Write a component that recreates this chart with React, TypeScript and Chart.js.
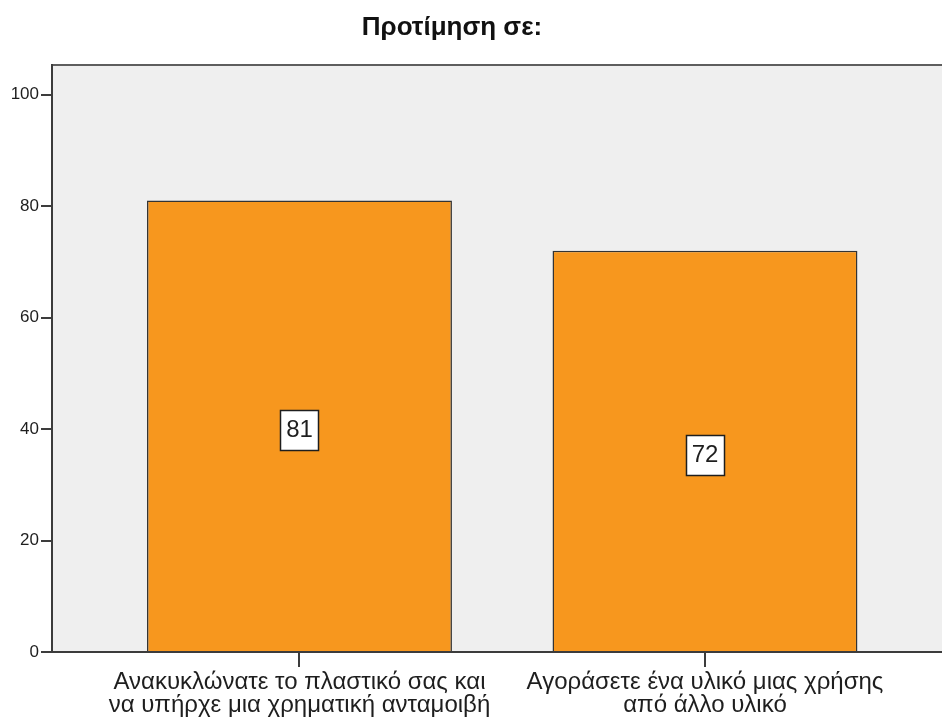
import React, { useEffect, useRef } from 'react';
import { Chart, registerables } from 'chart.js';

Chart.register(...registerables);

const TITLE = 'Προτίμηση σε:';
const categories: string[][] = [
  ['Ανακυκλώνατε το πλαστικό σας και', 'να υπήρχε μια χρηματική ανταμοιβή'],
  ['Αγοράσετε ένα υλικό μιας χρήσης', 'από άλλο υλικό'],
];
const counts: number[] = [81, 72];
const yTickValues: number[] = [0, 20, 40, 60, 80, 100];

const FONT = '"Liberation Sans", Arial, Helvetica, sans-serif';
const BAR_FILL = '#f7971e';
const PLOT_BG = '#efefef';
const INK = '#1e1e1e';
const AXIS = '#3c3c3c';

// Heading above the plot, centred a little left of the canvas middle.
const heading = {
  id: 'heading',
  afterDraw(chart: any) {
    const { ctx } = chart;
    ctx.save();
    ctx.font = `bold 26px ${FONT}`;
    ctx.fillStyle = '#111111';
    ctx.textAlign = 'center';
    ctx.textBaseline = 'middle';
    ctx.fillText(TITLE, 452, 28);
    ctx.restore();
  },
};

// Grey plot background with a top rule; left and bottom edges come from the axes.
const plotFrame = {
  id: 'plotFrame',
  beforeDraw(chart: any) {
    const { ctx, chartArea: a } = chart;
    ctx.save();
    ctx.fillStyle = PLOT_BG;
    ctx.fillRect(a.left, a.top, a.right - a.left, a.bottom - a.top);
    ctx.strokeStyle = '#5e5e5e';
    ctx.lineWidth = 2;
    ctx.beginPath();
    ctx.moveTo(a.left, a.top);
    ctx.lineTo(a.right, a.top);
    ctx.stroke();
    ctx.restore();
  },
};

// Boxed count label in the middle of each bar.
const valueBoxes = {
  id: 'valueBoxes',
  afterDatasetsDraw(chart: any) {
    const { ctx } = chart;
    const meta = chart.getDatasetMeta(0);
    ctx.save();
    ctx.font = `24px ${FONT}`;
    ctx.textAlign = 'center';
    ctx.textBaseline = 'middle';
    meta.data.forEach((bar: any, i: number) => {
      const { x, y, base } = bar.getProps(['x', 'y', 'base'], true);
      const cy = (y + base) / 2 + 4;
      const text = String(counts[i]);
      const w = Math.round(ctx.measureText(text).width + 11);
      const h = 40;
      const left = Math.round(x - w / 2) + 0.5;
      const top = Math.round(cy - h / 2) + 0.5;
      ctx.fillStyle = '#ffffff';
      ctx.fillRect(left, top, w, h);
      ctx.strokeStyle = INK;
      ctx.lineWidth = 1.5;
      ctx.strokeRect(left, top, w, h);
      ctx.fillStyle = INK;
      ctx.fillText(text, x, cy + 1);
    });
    ctx.restore();
  },
};

export default function App() {
  const canvasRef = useRef<HTMLCanvasElement | null>(null);

  useEffect(() => {
    document.body.style.margin = '0';
    const canvas = canvasRef.current;
    if (!canvas) return;

    const chart = new Chart(canvas, {
      type: 'bar',
      data: {
        datasets: [
          {
            data: counts.map((v, i) => ({ x: i + 1, y: v })),
            backgroundColor: BAR_FILL,
            borderColor: '#333333',
            borderWidth: 1.5,
            borderSkipped: 'bottom',
            categoryPercentage: 1,
            barPercentage: 0.752,
          },
        ],
      },
      options: {
        responsive: false,
        animation: false,
        devicePixelRatio: 1,
        layout: { padding: { top: 65 } },
        plugins: {
          legend: { display: false },
          tooltip: { enabled: false },
          title: { display: false },
        },
        scales: {
          x: {
            type: 'linear',
            offset: false,
            min: 0.3897,
            max: 2.5845,
            afterBuildTicks: (scale: any) => {
              scale.ticks = categories.map((_, i) => ({ value: i + 1 }));
            },
            afterFit: (scale: any) => {
              scale.height = 69;
            },
            ticks: {
              autoSkip: false,
              maxRotation: 0,
              minRotation: 0,
              padding: 4,
              color: INK,
              font: { family: FONT, size: 24, lineHeight: 0.96 },
              callback: (_v: any, i: number) => categories[i],
            },
            grid: {
              offset: false,
              drawOnChartArea: false,
              drawTicks: true,
              tickLength: 15,
              color: AXIS,
              lineWidth: 2,
            },
            border: { display: true, color: AXIS, width: 2 },
          },
          y: {
            min: 0,
            max: 105.3,
            afterBuildTicks: (scale: any) => {
              scale.ticks = yTickValues.map((v) => ({ value: v }));
            },
            afterFit: (scale: any) => {
              scale.width = 52;
            },
            ticks: {
              padding: 2,
              color: INK,
              font: { family: FONT, size: 17 },
              callback: (v: any) => String(v),
            },
            grid: {
              drawOnChartArea: false,
              drawTicks: true,
              tickLength: 11,
              color: AXIS,
              lineWidth: 2,
            },
            border: { display: true, color: AXIS, width: 2 },
          },
        },
      },
      plugins: [plotFrame, valueBoxes, heading],
    });

    return () => chart.destroy();
  }, []);

  return (
    <canvas
      ref={canvasRef}
      width={942}
      height={721}
      style={{ display: 'block', width: 942, height: 721 }}
    />
  );
}
